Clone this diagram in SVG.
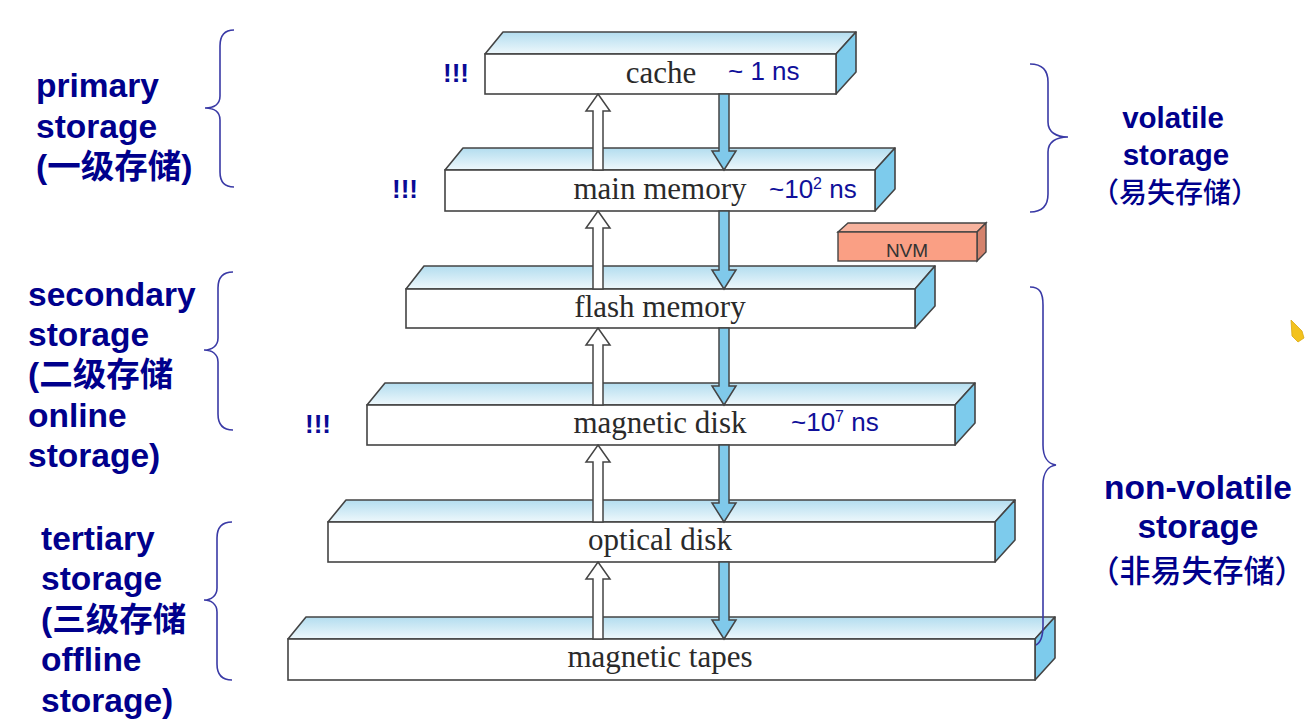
<svg xmlns="http://www.w3.org/2000/svg" width="1306" height="724" viewBox="0 0 1306 724">
<defs>
<linearGradient id="topg" x1="0" y1="0" x2="0" y2="1">
<stop offset="0" stop-color="#b3ddef"/>
<stop offset="1" stop-color="#eef8fc"/>
</linearGradient>
<style>
.front{fill:#ffffff;stroke:#444;stroke-width:1.6}
.top{fill:url(#topg);stroke:#444;stroke-width:1.6;stroke-linejoin:round}
.side{fill:#7dcbec;stroke:#444;stroke-width:1.6;stroke-linejoin:round}
.lbl{font-family:"Liberation Serif","Times New Roman",serif;font-size:31px;fill:#2a2a2a;text-anchor:middle}
.ns{font-family:"Liberation Sans",Arial,sans-serif;font-size:26px;fill:#10109a}
.bang{font-family:"Liberation Sans",Arial,sans-serif;font-size:26px;font-weight:bold;fill:#0a0a96}
.side-t{font-family:"Liberation Sans",Arial,"Noto Sans CJK SC",sans-serif;font-weight:bold;fill:#00008c}
.cjk{font-family:"Noto Sans CJK SC",sans-serif;font-weight:500}
.brace{fill:none;stroke:#3a3aa6;stroke-width:1.6}
.up{fill:#ffffff;stroke:#444;stroke-width:1.5;stroke-linejoin:miter}
.down{fill:#80c9ea;stroke:#444;stroke-width:1.5;stroke-linejoin:miter}
</style>
</defs>
<rect width="1306" height="724" fill="#ffffff"/>

<g id="cache">
<polygon class="top" points="485,54 503,32 856,32 836,54"/>
<polygon class="side" points="836,54 856,32 856,72 836,94"/>
<rect class="front" x="485" y="54" width="351" height="40"/>
<text class="lbl" x="661" y="83">cache</text>
<text class="ns" x="728" y="80">~ 1 ns</text>
<text class="bang" x="443" y="82">!!!</text>
</g>

<g id="main-memory">
<polygon class="top" points="445,170 463,148 895,148 875,170"/>
<polygon class="side" points="875,170 895,148 895,189 875,211"/>
<rect class="front" x="445" y="170" width="430" height="41"/>
<text class="lbl" x="660" y="199">main memory</text>
<text class="ns" x="769" y="198">~10<tspan dy="-9" font-size="16">2</tspan><tspan dy="9"> ns</tspan></text>
<text class="bang" x="392" y="198">!!!</text>
</g>

<g id="nvm">
<polygon points="838,232 848,223 986,223 977,232" fill="#f7b39e" stroke="#444" stroke-width="1.4"/>
<polygon points="977,232 986,223 986,252 977,261" fill="#d4826c" stroke="#444" stroke-width="1.4"/>
<rect x="838" y="232" width="139" height="29" fill="#fa9f84" stroke="#444" stroke-width="1.4"/>
<text x="907" y="257" font-family="Liberation Sans,Arial,sans-serif" font-size="19" fill="#333" text-anchor="middle">NVM</text>
</g>

<g id="flash-memory">
<polygon class="top" points="406,289 424,266 935,266 915,289"/>
<polygon class="side" points="915,289 935,266 935,306 915,328"/>
<rect class="front" x="406" y="289" width="509" height="39"/>
<text class="lbl" x="660" y="317">flash memory</text>
</g>

<g id="magnetic-disk">
<polygon class="top" points="367,405 385,383 975,383 955,405"/>
<polygon class="side" points="955,405 975,383 975,423 955,445"/>
<rect class="front" x="367" y="405" width="588" height="40"/>
<text class="lbl" x="660" y="433">magnetic disk</text>
<text class="ns" x="791" y="431">~10<tspan dy="-9" font-size="16">7</tspan><tspan dy="9"> ns</tspan></text>
<text class="bang" x="305" y="433">!!!</text>
</g>

<g id="optical-disk">
<polygon class="top" points="328,522 346,500 1015,500 995,522"/>
<polygon class="side" points="995,522 1015,500 1015,540 995,562"/>
<rect class="front" x="328" y="522" width="667" height="40"/>
<text class="lbl" x="660" y="550">optical disk</text>
</g>

<g id="magnetic-tapes">
<polygon class="top" points="288,639 306,617 1055,617 1035,639"/>
<polygon class="side" points="1035,639 1055,617 1055,658 1035,680"/>
<rect class="front" x="288" y="639" width="747" height="41"/>
<text class="lbl" x="660" y="667">magnetic tapes</text>
</g>

<g id="connectors">
<path class="up" d="M598,94 L610,111 L603,111 L603,170 L593,170 L593,111 L586,111 Z"/>
<path class="up" d="M598,211 L610,228 L603,228 L603,289 L593,289 L593,228 L586,228 Z"/>
<path class="up" d="M598,328 L610,345 L603,345 L603,405 L593,405 L593,345 L586,345 Z"/>
<path class="up" d="M598,445 L610,462 L603,462 L603,522 L593,522 L593,462 L586,462 Z"/>
<path class="up" d="M598,562 L610,579 L603,579 L603,639 L593,639 L593,579 L586,579 Z"/>
<path class="down" d="M719,94 L729,94 L729,151 L736,151 L724,170 L712,151 L719,151 Z"/>
<path class="down" d="M719,211 L729,211 L729,270 L736,270 L724,289 L712,270 L719,270 Z"/>
<path class="down" d="M719,328 L729,328 L729,386 L736,386 L724,405 L712,386 L719,386 Z"/>
<path class="down" d="M719,445 L729,445 L729,503 L736,503 L724,522 L712,503 L719,503 Z"/>
<path class="down" d="M719,562 L729,562 L729,620 L736,620 L724,639 L712,620 L719,620 Z"/>
</g>

<g id="primary-storage">
<path class="brace" d="M234,30 C224,30 220,36 220,46 L220,96 C220,104 214,108 205,108 C214,108 220,112 220,120 L220,172 C220,182 224,187 234,187"/>
<text class="side-t" font-size="33.5"><tspan x="36" y="97">primary</tspan><tspan x="36" y="138">storage</tspan><tspan x="36" y="178">(一级存储)</tspan></text>
</g>

<g id="secondary-storage">
<path class="brace" d="M233,272 C223,272 218,278 218,288 L218,338 C218,346 212,350 204,350 C212,350 218,354 218,362 L218,414 C218,424 223,430 233,430"/>
<text class="side-t" font-size="33.5"><tspan x="28" y="306">secondary</tspan><tspan x="28" y="346">storage</tspan><tspan x="28" y="386">(二级存储</tspan><tspan x="28" y="427">online</tspan><tspan x="28" y="467">storage)</tspan></text>
</g>

<g id="tertiary-storage">
<path class="brace" d="M232,522 C222,522 217,528 217,538 L217,588 C217,596 211,600 204,600 C211,600 217,604 217,612 L217,664 C217,674 222,680 232,680"/>
<text class="side-t" font-size="33.5"><tspan x="41" y="550">tertiary</tspan><tspan x="41" y="590">storage</tspan><tspan x="41" y="631">(三级存储</tspan><tspan x="41" y="671">offline</tspan><tspan x="41" y="712">storage)</tspan></text>
</g>

<g id="volatile-storage">
<path class="brace" d="M1030,64 C1042,64 1048,70 1048,82 L1048,122 C1048,132 1056,137 1068,137 C1056,137 1048,142 1048,152 L1048,194 C1048,206 1042,212 1030,212"/>
<text class="side-t" font-size="29.5" text-anchor="middle"><tspan x="1173" y="128">volatile</tspan><tspan x="1176" y="165">storage</tspan></text>
<text class="side-t cjk" font-size="28" text-anchor="middle" x="1175" y="203">（易失存储）</text>
</g>

<g id="non-volatile-storage">
<path class="brace" d="M1030,287 C1040,287 1043,293 1043,305 L1043,445 C1043,457 1048,464 1056,465 C1048,466 1043,473 1043,485 L1043,625 C1043,636 1040,643 1036,645"/>
<text class="side-t" font-size="33.5" text-anchor="middle"><tspan x="1198" y="499">non-volatile</tspan><tspan x="1198" y="538">storage</tspan></text>
<text class="side-t cjk" font-size="31" text-anchor="middle" x="1197" y="582">（非易失存储）</text>
</g>

<g id="cursor">
<polygon points="1291,320 1302,331 1304,338 1298,342 1292,336" fill="#f3c21d" stroke="#d9a810" stroke-width="0.8"/>
</g>
</svg>
